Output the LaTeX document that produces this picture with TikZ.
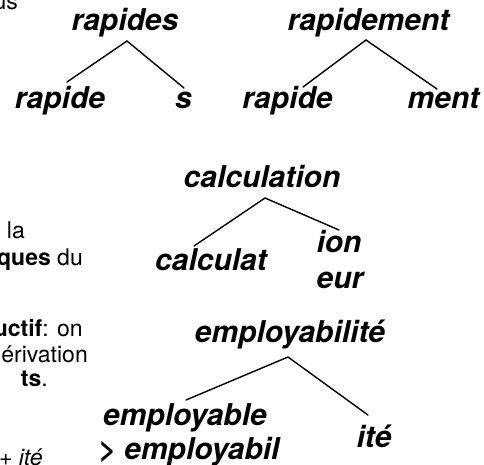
\documentclass[tikz,border=0pt]{standalone}
\usepackage{fontspec}
\setmainfont{TeX Gyre Heros}
\begin{document}
\begin{tikzpicture}[x=1pt,y=-1pt,
  tree/.style={font=\fontsize{30}{35}\selectfont\bfseries\itshape, inner sep=0pt, anchor=base},
  body/.style={font=\fontsize{23}{28}\selectfont, inner sep=0pt, anchor=base east},
  branch/.style={line width=1.4pt, line cap=round}]
\useasboundingbox (0,0) rectangle (484,464);
\clip (0,0) rectangle (484,464);
% left text fragments
\node[body] (us) at (18,9) {us};
\node[body] (la) at (25,238) {la};
\node[body] (ques) at (83,265) {\textbf{ques} du};
\node[body] (uctif) at (83,336) {\textbf{uctif}: on};
\node[body] (erivation) at (88,362) {érivation};
\node[body] (ts) at (48,386) {\textbf{ts}.};
\node[body] (ite2) at (43,465) {+ \textit{ité}};
% tree 1
\node[tree] (rapides) at (125,30) {rapides};
\node[tree] (rapideA) at (60,108) {rapide};
\node[tree] (s) at (183.5,108) {s};
\draw[branch] ([xshift=7pt,yshift=26pt]rapideA.base) -- ([xshift=2pt,yshift=-11pt]rapides.base) -- ([xshift=0.5pt,yshift=20pt]s.base);
% tree 2
\node[tree] (rapidement) at (368.5,30) {rapidement};
\node[tree] (rapideB) at (287.5,108) {rapide};
\node[tree] (ment) at (443.5,108) {ment};
\draw[branch] ([xshift=15.5pt,yshift=21pt]rapideB.base) -- ([xshift=-2.5pt,yshift=-10pt]rapidement.base) -- ([xshift=-6.5pt,yshift=19pt]ment.base);
% tree 3
\node[tree] (calculation) at (262,187) {calculation};
\node[tree] (calculat) at (211,270) {calculat};
\node[tree] (ion) at (339,252) {ion};
\node[tree] (eur) at (340,288) {eur};
\draw[branch] ([xshift=-17pt,yshift=24pt]calculat.base) -- ([xshift=3pt,yshift=-11pt]calculation.base) -- ([xshift=0pt,yshift=22pt]ion.base);
% tree 4
\node[tree] (employabilite) at (290,342) {employabilité};
\node[tree] (employable) at (185,425) {employable};
\node[tree] (employabil) at (189,459) {> employabil};
\node[tree] (ite) at (374,447) {ité};
\draw[branch] ([xshift=1pt,yshift=25pt]employable.base) -- ([xshift=-2pt,yshift=-15pt]employabilite.base) -- ([xshift=-6pt,yshift=32pt]ite.base);
\end{tikzpicture}
\end{document}
